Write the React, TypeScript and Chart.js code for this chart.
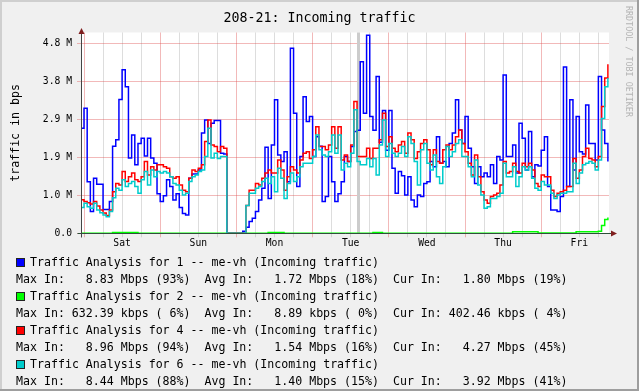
import React, { useEffect, useRef } from "react";
import { Chart, registerables } from "chart.js";

Chart.register(...registerables);

const MONO = '"DejaVu Sans Mono", monospace';

const chartTitle = "208-21: Incoming traffic";
const yAxisTitle = "traffic in bps";
const watermark = "RRDTOOL / TOBI OETIKER";
const dayNames = ["Sat", "Sun", "Mon", "Tue", "Wed", "Thu", "Fri"];

// hours relative to Saturday 00:00
const firstHour = -1;
const hourMin = -0.945;
const hourMax = 165.35;
const unknownHour = 86.2;

// Mbps
const yMax = 5.07;
const yStep = 0.96;

const blueIn = [
  2.65, 3.16, 1.3, 0.55, 1.39, 1.24, 1.24, 0.6, 0.6, 0.8,
  2.2, 2.36, 3.38, 4.13, 3.7, 1.9, 2.48, 1.73, 2.27, 2.4,
  1.95, 2.4, 1.9, 1.77, 1.0, 0.8, 0.95, 1.35, 1.18, 0.84,
  1.0, 0.65, 0.5, 0.46, 1.39, 1.5, 1.5, 1.6, 2.53, 2.86,
  2.27, 2.78, 2.85, 2.85, 2.02, 2.0, 0, 0, 0, 0,
  0, 0.05, 0.15, 0.3, 0.38, 0.55, 0.84, 1.14, 2.17, 0.88,
  2.23, 3.37, 1.98, 1.81, 2.06, 1.3, 4.67, 3.03, 1.18, 1.94,
  3.45, 2.82, 2.95, 1.94, 2.44, 2.2, 0.8, 0.93, 1.94, 1.3,
  0.8, 1.0, 1.3, 1.94, 1.81, 2.19, 2.57, 2.6, 4.33, 3.03,
  5.0, 2.95, 2.6, 3.96, 2.3, 3.1, 2.1, 3.1, 1.64, 1.01,
  1.56, 1.45, 0.97, 1.43, 0.84, 0.67, 0.97, 0.93, 1.26, 1.3,
  1.81, 1.68, 2.44, 1.77, 1.81, 1.68, 2.27, 2.53, 3.37, 2.61,
  2.27, 2.95, 2.15, 1.68, 1.26, 1.68, 1.43, 1.52, 1.43, 1.73,
  1.26, 1.94, 1.85, 4.0, 1.94, 1.94, 2.23, 1.52, 2.78, 2.4,
  1.6, 2.57, 1.43, 1.73, 1.7, 2.1, 2.44, 1.18, 0.59, 0.59,
  0.55, 0.93, 4.2, 1.18, 3.37, 1.6, 2.95, 2.06, 2.0, 3.24,
  2.27, 2.27, 1.85, 3.96, 2.61, 2.27, 1.81,
];

const greenIn = [
  0, 0, 0, 0, 0, 0, 0, 0, 0, 0,
  0.02, 0.02, 0.02, 0.02, 0.02, 0.02, 0.02, 0.02, 0, 0,
  0, 0, 0, 0, 0, 0, 0, 0, 0, 0,
  0, 0, 0, 0, 0, 0, 0, 0, 0, 0,
  0, 0, 0, 0, 0, 0, 0, 0, 0, 0,
  0, 0, 0, 0, 0, 0, 0, 0, 0, 0.02,
  0.02, 0.02, 0.02, 0.02, 0, 0, 0, 0, 0, 0,
  0, 0, 0, 0, 0, 0, 0, 0, 0, 0,
  0, 0, 0, 0, 0, 0, 0, 0, 0, 0,
  0, 0, 0.02, 0.02, 0.02, 0, 0, 0, 0, 0,
  0, 0, 0, 0, 0, 0, 0, 0, 0, 0,
  0, 0, 0, 0, 0, 0, 0, 0, 0, 0,
  0, 0, 0, 0, 0, 0, 0, 0, 0, 0,
  0, 0, 0, 0, 0, 0, 0.04, 0.04, 0.04, 0.04,
  0.04, 0.04, 0.04, 0.04, 0.01, 0.01, 0.01, 0.01, 0.01, 0.01,
  0.01, 0.01, 0.01, 0.01, 0.01, 0.01, 0.04, 0.04, 0.04, 0.04,
  0.04, 0.04, 0.04, 0.05, 0.2, 0.35, 0.4,
];

const redIn = [
  0.85, 0.8, 0.77, 0.74, 0.8, 0.69, 0.59, 0.51, 0.45, 0.59,
  1.05, 1.26, 1.22, 1.56, 1.31, 1.43, 1.52, 1.35, 1.31, 1.43,
  1.81, 1.47, 1.68, 1.6, 1.73, 1.73, 1.68, 1.64, 1.43, 1.39,
  1.43, 1.22, 1.09, 1.05, 1.39, 1.6, 1.56, 1.64, 1.73, 2.32,
  2.86, 2.23, 2.19, 2.06, 2.19, 2.15, 0, 0, 0, 0,
  0, 0, 0.7, 1.09, 1.09, 1.26, 1.22, 1.39, 1.52, 1.6,
  1.52, 1.52, 1.85, 1.6, 1.09, 1.43, 1.68, 1.6, 1.52, 1.85,
  2.02, 2.06, 1.89, 2.11, 2.69, 2.19, 2.19, 2.11, 2.23, 2.69,
  2.15, 2.69, 1.85, 1.98, 1.81, 2.23, 3.33, 1.94, 1.94, 1.94,
  2.15, 1.89, 2.15, 2.15, 2.36, 3.03, 2.19, 2.44, 2.15, 2.06,
  2.23, 2.32, 2.02, 2.53, 2.36, 1.89, 2.06, 2.27, 2.36, 2.11,
  1.73, 2.11, 1.81, 1.77, 2.11, 2.23, 2.11, 2.23, 2.44, 2.61,
  2.27, 2.06, 1.77, 1.47, 1.98, 1.43, 1.05, 0.84, 0.76, 0.93,
  0.97, 1.01, 1.22, 1.81, 1.52, 1.56, 1.77, 1.56, 1.52, 1.77,
  1.68, 1.77, 1.6, 1.26, 1.18, 1.47, 1.43, 1.43, 1.09, 0.93,
  1.01, 1.05, 1.09, 1.18, 1.18, 1.89, 1.39, 1.6, 1.94, 2.15,
  1.89, 1.85, 1.68, 1.94, 3.2, 3.92, 4.27,
];

const cyanIn = [
  0.65, 0.76, 0.67, 0.63, 0.76, 0.59, 0.52, 0.46, 0.42, 0.55,
  0.9, 1.14, 1.09, 1.35, 1.18, 1.26, 1.31, 1.18, 1.01, 1.35,
  1.56, 1.22, 1.6, 1.43, 1.56, 1.52, 1.56, 1.52, 1.43, 1.26,
  1.22, 1.09, 0.97, 1.01, 1.31, 1.43, 1.47, 1.56, 1.6, 1.94,
  2.65, 1.9, 2.02, 1.89, 1.94, 1.94, 0, 0, 0, 0,
  0, 0, 0.7, 1.01, 1.01, 1.14, 1.18, 1.31, 1.39, 1.26,
  1.43, 1.05, 1.64, 1.39, 0.88, 1.26, 1.52, 1.31, 1.43, 1.68,
  1.77, 1.77, 1.77, 1.94, 2.48, 2.11, 1.98, 1.94, 2.06, 2.48,
  2.02, 2.48, 1.6, 1.77, 1.68, 2.02, 3.12, 1.81, 1.73, 1.73,
  1.89, 1.68, 1.89, 1.47, 2.23, 2.86, 1.94, 2.27, 2.02, 1.94,
  2.02, 2.19, 1.94, 2.44, 2.27, 1.81, 1.22, 2.11, 2.27, 1.77,
  1.6, 1.98, 1.43, 1.26, 1.68, 2.19, 1.94, 2.06, 2.27, 2.36,
  1.94, 1.94, 1.68, 1.43, 1.85, 1.22, 0.97, 0.63, 0.67, 0.88,
  0.88, 0.93, 1.01, 1.77, 1.43, 1.43, 1.68, 1.18, 1.43, 1.68,
  1.6, 1.68, 1.39, 1.14, 1.09, 1.31, 1.22, 1.22, 1.01, 0.88,
  0.97, 1.01, 1.01, 1.05, 1.05, 1.77, 1.26, 1.52, 1.73, 1.77,
  1.81, 1.77, 1.6, 1.85, 2.9, 3.7, 3.92,
];

const seriesColors = ["#0000ff", "#00ff00", "#ff0000", "#00cccc"];
const seriesNames = [
  "Traffic Analysis for 1 -- me-vh (Incoming traffic)",
  "Traffic Analysis for 2 -- me-vh (Incoming traffic)",
  "Traffic Analysis for 4 -- me-vh (Incoming traffic)",
  "Traffic Analysis for 6 -- me-vh (Incoming traffic)",
];
const maxInText = ["  8.83 Mbps (93%)", "632.39 kbps ( 6%)", "  8.96 Mbps (94%)", "  8.44 Mbps (88%)"];
const avgInText = ["  1.72 Mbps (18%)", "  8.89 kbps ( 0%)", "  1.54 Mbps (16%)", "  1.40 Mbps (15%)"];
const curInText = ["  1.80 Mbps (19%)", "402.46 kbps ( 4%)", "  4.27 Mbps (45%)", "  3.92 Mbps (41%)"];

const MINOR_GRID = "rgba(143,143,143,0.3)";
const MAJOR_GRID = "rgba(222,79,79,0.4)";

function toPoints(values: number[]) {
  return values.map((v, i) => ({ x: firstHour + i, y: v }));
}

const rrdPlugin = {
  id: "rrdFrame",
  beforeDraw(chart: any) {
    const { ctx, width, height, chartArea } = chart;
    ctx.save();
    ctx.fillStyle = "#f0f0f0";
    ctx.fillRect(0, 0, width, height);
    ctx.fillStyle = "#cfcfcf";
    ctx.fillRect(0, 0, width, 2);
    ctx.fillRect(0, 0, 2, height);
    ctx.fillStyle = "#9e9e9e";
    ctx.fillRect(0, height - 2, width, 2);
    ctx.fillRect(width - 2, 0, 2, height);
    ctx.fillStyle = "#ffffff";
    ctx.fillRect(chartArea.left, chartArea.top, chartArea.right - chartArea.left, chartArea.bottom - chartArea.top);
    ctx.restore();
  },
  beforeDatasetsDraw(chart: any) {
    const { ctx, chartArea, scales } = chart;
    const x = scales.x.getPixelForValue(unknownHour);
    ctx.save();
    ctx.fillStyle = "#cccccc";
    ctx.fillRect(Math.round(x) - 1, chartArea.top, 3, chartArea.bottom - chartArea.top);
    ctx.restore();
  },
  afterDatasetsDraw(chart: any) {
    const { ctx, chartArea } = chart;
    const left = Math.round(chartArea.left) + 0.5;
    const bottom = Math.round(chartArea.bottom) + 0.5;
    ctx.save();
    ctx.lineWidth = 1;
    ctx.strokeStyle = "#2e4f3a";
    ctx.beginPath();
    ctx.moveTo(left - 4, bottom);
    ctx.lineTo(chartArea.right + 5, bottom);
    ctx.stroke();
    ctx.strokeStyle = "#444444";
    ctx.beginPath();
    ctx.moveTo(left, chartArea.top - 3);
    ctx.lineTo(left, bottom + 4);
    ctx.stroke();
    ctx.fillStyle = "#7f1f1f";
    ctx.beginPath();
    ctx.moveTo(left, chartArea.top - 4.5);
    ctx.lineTo(left - 3, chartArea.top + 1.5);
    ctx.lineTo(left + 3, chartArea.top + 1.5);
    ctx.closePath();
    ctx.fill();
    ctx.beginPath();
    ctx.moveTo(chartArea.right + 8, bottom);
    ctx.lineTo(chartArea.right + 2, bottom - 3);
    ctx.lineTo(chartArea.right + 2, bottom + 3);
    ctx.closePath();
    ctx.fill();
    ctx.restore();
  },
  afterDraw(chart: any) {
    const { ctx } = chart;
    ctx.save();
    ctx.translate(628.5, 6);
    ctx.rotate(Math.PI / 2);
    ctx.font = "8.4px " + MONO;
    ctx.fillStyle = "#b4b4b4";
    ctx.textBaseline = "middle";
    ctx.textAlign = "left";
    ctx.fillText(watermark, 0, 0);
    ctx.restore();
  },
};

export default function App() {
  const ref = useRef<HTMLCanvasElement>(null);

  useEffect(() => {
    if (!ref.current) return;
    const mk = (label: string, values: number[], color: string, order: number) => ({
      label,
      data: toPoints(values),
      borderColor: color,
      backgroundColor: color,
      borderWidth: 1.5,
      pointRadius: 0,
      stepped: "before" as const,
      fill: false,
      order,
    });
    const chart = new Chart(ref.current, {
      type: "line",
      data: {
        datasets: [
          mk(seriesNames[0], blueIn, seriesColors[0], 4),
          mk(seriesNames[1], greenIn, seriesColors[1], 3),
          mk(seriesNames[2], redIn, seriesColors[2], 2),
          mk(seriesNames[3], cyanIn, seriesColors[3], 1),
        ],
      },
      options: {
        responsive: false,
        animation: false,
        events: [],
        layout: { padding: { left: 0, right: 0, top: 0, bottom: 137.7 } },
        plugins: {
          legend: { display: false },
          tooltip: { enabled: false },
          title: {
            display: true,
            text: chartTitle,
            color: "#000",
            font: { family: MONO, size: 13.3, weight: "normal", lineHeight: "16px" },
            padding: { top: 11, bottom: 5.5 },
          },
        },
        scales: {
          x: {
            type: "linear",
            min: hourMin,
            max: hourMax,
            afterFit: (s: any) => {
              s.height = 20;
            },
            border: { display: false },
            grid: {
              color: (c: any) => (c.tick && c.tick.value % 24 === 0 ? MAJOR_GRID : MINOR_GRID),
              tickLength: 4,
              drawTicks: true,
            },
            ticks: {
              stepSize: 6,
              includeBounds: false,
              autoSkip: false,
              maxRotation: 0,
              minRotation: 0,
              padding: 0,
              color: "#000",
              font: { family: MONO, size: 9.7 },
              callback: (v: any) => {
                const n = Number(v);
                return n % 24 === 12 ? dayNames[(n - 12) / 24] : "";
              },
            },
          },
          y: {
            min: 0,
            max: yMax,
            afterFit: (s: any) => {
              s.width = 81;
            },
            border: { display: false },
            grid: { color: MAJOR_GRID, tickLength: 4, drawTicks: true },
            ticks: {
              stepSize: yStep,
              includeBounds: false,
              padding: 5,
              color: "#000",
              font: { family: MONO, size: 9.7 },
              callback: (v: any) => {
                const n = Number(v);
                return n === 0 ? "0.0" : n.toFixed(1) + " M";
              },
            },
            title: {
              display: true,
              text: yAxisTitle,
              color: "#000",
              font: { family: MONO, size: 11.6 },
              padding: { top: 9, bottom: 0 },
            },
          },
          y2: {
            position: "right",
            display: true,
            afterFit: (s: any) => {
              s.width = 30;
            },
            border: { display: false },
            grid: { display: false },
            ticks: { display: false },
          },
        },
      },
      plugins: [rrdPlugin],
    } as any);
    return () => chart.destroy();
  }, []);

  const textStyle: React.CSSProperties = {
    position: "absolute",
    fontFamily: MONO,
    fontSize: "11.6px",
    lineHeight: "14px",
    whiteSpace: "pre",
    color: "#000",
    margin: 0,
  };

  const rowGap = 17;

  return (
    <div style={{ position: "absolute", left: 0, top: 0, width: 639, height: 391 }}>
      <canvas ref={ref} width={639} height={391} style={{ display: "block" }} />
      {seriesNames.map((name, i) => (
        <React.Fragment key={name}>
          <div
            style={{
              position: "absolute",
              left: 16,
              top: 257.5 + 2 * rowGap * i,
              width: 7,
              height: 7,
              border: "1px solid #222",
              background: seriesColors[i],
            }}
          />
          <div style={{ ...textStyle, left: 30, top: 254.7 + 2 * rowGap * i }}>{name}</div>
          <div style={{ ...textStyle, left: 16, top: 254.7 + rowGap + 2 * rowGap * i }}>
            {"Max In: " + maxInText[i] + "  Avg In: " + avgInText[i] + "  Cur In: " + curInText[i]}
          </div>
        </React.Fragment>
      ))}
    </div>
  );
}
